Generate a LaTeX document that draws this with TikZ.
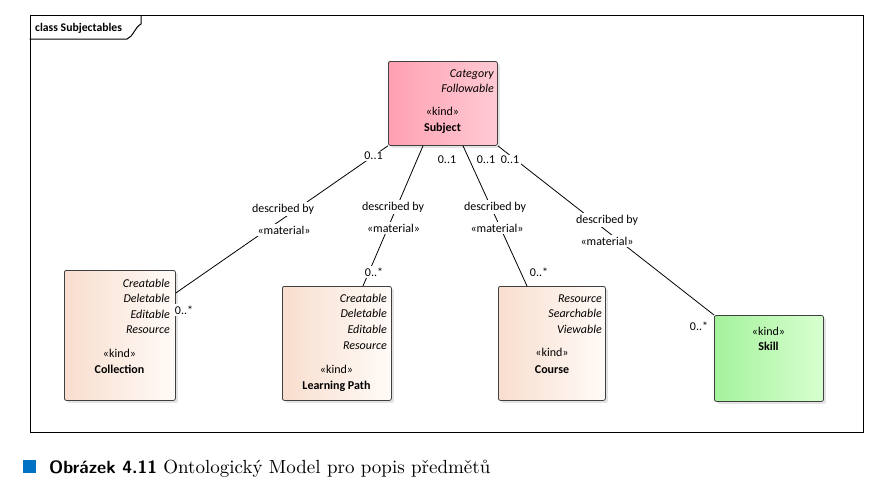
\documentclass[tikz,border=0pt]{standalone}
\usepackage{fontspec}
\newfontfamily\ea{Carlito}
\newfontfamily\capfont{lmroman10-regular.otf}
\usetikzlibrary{shadows}
\definecolor{pinkL}{RGB}{255,160,178}
\definecolor{pinkR}{RGB}{255,202,212}
\definecolor{peachL}{RGB}{248,222,206}
\definecolor{peachR}{RGB}{255,251,248}
\definecolor{greenL}{RGB}{164,242,156}
\definecolor{greenR}{RGB}{216,255,208}
\definecolor{capblue}{RGB}{0,114,198}
\begin{document}
\begin{tikzpicture}[x=1pt,y=-1pt,
  umlbox/.style={draw=black!75, line width=0.8pt, rounded corners=2pt, anchor=north west, inner sep=0pt,
    drop shadow={shadow xshift=2.5pt, shadow yshift=-2.5pt, fill=black!22}},
  attr/.style={font=\ea\itshape\fontsize{12}{14}\selectfont, anchor=base east, inner sep=0pt},
  stereo/.style={font=\ea\fontsize{12}{14}\selectfont, anchor=base, inner sep=0pt},
  cname/.style={font=\ea\bfseries\fontsize{12}{14}\selectfont, anchor=base, inner sep=0pt},
  lab/.style={font=\ea\fontsize{12}{14}\selectfont, fill=white, inner sep=1.5pt},
  conn/.style={draw=black, line width=0.8pt}]
\useasboundingbox (0,0) rectangle (876,498);

% frame
\node[draw=black, line width=1pt, anchor=north west, inner sep=0pt, minimum width=833.5pt, minimum height=417pt] (frame) at (29.5,15) {};
\draw[line width=1pt] (29.5,39) -- (127,39) .. controls (133,37) and (135,27) .. (141,24) -- (141,15);
\node[font=\ea\bfseries\fontsize{11.7}{14}\selectfont, anchor=base west, inner sep=0pt] (ftitle) at (35,31) {class Subjectables};

% boxes
\node[umlbox, left color=pinkL, right color=pinkR, minimum width=109pt, minimum height=84pt] (subj) at (388,61) {};
\node[attr] (subjA1) at (494,77) {Category};
\node[attr] (subjA2) at (494,92) {Followable};
\node[stereo] (subjK) at (442.5,115) {«kind»};
\node[cname] (subjN) at (442.5,131) {Subject};

\node[umlbox, left color=peachL, right color=peachR, minimum width=111pt, minimum height=130pt] (coll) at (64,270) {};
\node[attr] (collA1) at (170,287) {Creatable};
\node[attr] (collA2) at (170,302.5) {Deletable};
\node[attr] (collA3) at (170,318) {Editable};
\node[attr] (collA4) at (170,333.5) {Resource};
\node[stereo] (collK) at (119.5,357) {«kind»};
\node[cname] (collN) at (119.5,373) {Collection};

\node[umlbox, left color=peachL, right color=peachR, minimum width=109pt, minimum height=114pt] (lp) at (282,286) {};
\node[attr] (lpA1) at (387,302) {Creatable};
\node[attr] (lpA2) at (387,317.5) {Deletable};
\node[attr] (lpA3) at (387,333) {Editable};
\node[attr] (lpA4) at (387,349) {Resource};
\node[stereo] (lpK) at (336.5,373) {«kind»};
\node[cname] (lpN) at (336.5,389) {Learning Path};

\node[umlbox, left color=peachL, right color=peachR, minimum width=107pt, minimum height=114pt] (course) at (498,286) {};
\node[attr] (courseA1) at (602,302) {Resource};
\node[attr] (courseA2) at (602,317.5) {Searchable};
\node[attr] (courseA3) at (602,333) {Viewable};
\node[stereo] (courseK) at (552,356) {«kind»};
\node[cname] (courseN) at (552,373) {Course};

\node[umlbox, left color=greenL, right color=greenR, minimum width=109pt, minimum height=86pt] (skill) at (714,315) {};
\node[stereo] (skillK) at (768.5,335) {«kind»};
\node[cname] (skillN) at (768.5,350) {Skill};

% connectors
\draw[conn] (subj.south west) -- ([yshift=-23pt]coll.north east);
\draw[conn] ([xshift=35pt]subj.south west) -- ([xshift=81pt]lp.north west);
\draw[conn] ([xshift=75pt]subj.south west) -- ([xshift=29pt]course.north west);
\draw[conn] (subj.south east) -- (skill.north west);

% labels
\node[lab] (m1a) at (373.5,156) {0..1};
\node[lab] (d1) at (283,209) {described by};
\node[lab] (s1) at (284,230) {«material»};
\node[lab] (m1b) at (184,310) {0..*};

\node[lab] (m2a) at (447,160) {0..1};
\node[lab] (d2) at (393,207) {described by};
\node[lab] (s2) at (393.5,228) {«material»};
\node[lab] (m2b) at (374,272) {0..*};

\node[lab] (m3a) at (486,160) {0..1};
\node[lab] (d3) at (495,207) {described by};
\node[lab] (s3) at (497,228) {«material»};
\node[lab] (m3b) at (539,272) {0..*};

\node[lab] (m4a) at (510,160) {0..1};
\node[lab] (d4) at (607,220) {described by};
\node[lab] (s4) at (607,241) {«material»};
\node[lab] (m4b) at (699,326) {0..*};

% caption
\node[fill=capblue, minimum size=13pt, inner sep=0pt, anchor=north west] (capsq) at (23,460) {};
\node[anchor=base west, inner sep=0pt] (cap) at (49,473) {{\fontsize{17.8}{20}\selectfont\sffamily\bfseries Obrázek 4.11}{\fontsize{19}{20}\selectfont\capfont\ Ontologický Model pro popis předmětů}};
\end{tikzpicture}
\end{document}
